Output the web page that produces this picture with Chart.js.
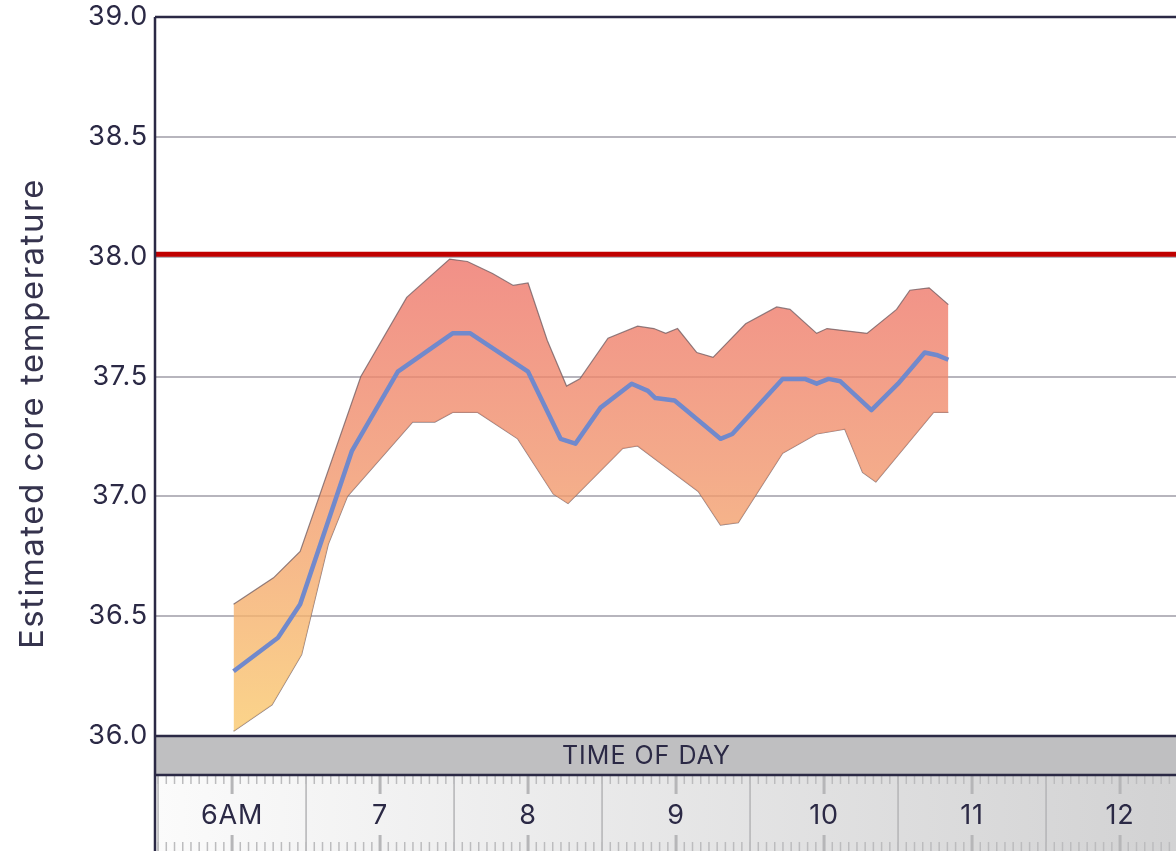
<!DOCTYPE html>
<html>
<head>
<meta charset="utf-8">
<script src="https://cdn.jsdelivr.net/npm/chart.js@4.4.1/dist/chart.umd.min.js"></script>
<style>
  html, body { margin: 0; padding: 0; background: #ffffff; overflow: hidden; }
  #wrap { width: 1176px; height: 851px; }
</style>
</head>
<body>
<div id="wrap"><canvas id="c" width="1176" height="851"></canvas></div>
<script>
// ---------------- DATA ----------------
const hourValues = [6, 7, 8, 9, 10, 11, 12];
const hourLabels = ['6AM', '7', '8', '9', '10', '11', '12'];
const yTickValues = [36.0, 36.5, 37.0, 37.5, 38.0, 38.5, 39.0];
const thresholdTemp = 38.01;

const meanTimes = [6.01, 6.31, 6.46, 6.81, 7.12, 7.49, 7.61, 8.00, 8.22, 8.32, 8.49, 8.70, 8.81, 8.86, 8.99, 9.30, 9.38, 9.72, 9.87, 9.95, 10.03, 10.11, 10.32, 10.50, 10.68, 10.76, 10.84];
const meanTemps = [36.27, 36.41, 36.55, 37.19, 37.52, 37.68, 37.68, 37.52, 37.24, 37.22, 37.37, 37.47, 37.44, 37.41, 37.40, 37.24, 37.26, 37.49, 37.49, 37.47, 37.49, 37.48, 37.36, 37.47, 37.60, 37.59, 37.57];

const upperTimes = [6.01, 6.28, 6.46, 6.87, 7.18, 7.47, 7.59, 7.76, 7.90, 8.00, 8.13, 8.26, 8.35, 8.54, 8.74, 8.85, 8.93, 9.01, 9.14, 9.25, 9.47, 9.68, 9.77, 9.95, 10.02, 10.29, 10.49, 10.58, 10.71, 10.84];
const upperTemps = [36.55, 36.66, 36.77, 37.50, 37.83, 37.99, 37.98, 37.93, 37.88, 37.89, 37.65, 37.46, 37.49, 37.66, 37.71, 37.70, 37.68, 37.70, 37.60, 37.58, 37.72, 37.79, 37.78, 37.68, 37.70, 37.68, 37.78, 37.86, 37.87, 37.80];

const lowerTimes = [6.01, 6.27, 6.47, 6.65, 6.78, 7.22, 7.37, 7.49, 7.66, 7.93, 8.17, 8.27, 8.64, 8.74, 9.15, 9.30, 9.42, 9.72, 9.95, 10.14, 10.26, 10.35, 10.74, 10.84];
const lowerTemps = [36.02, 36.13, 36.34, 36.80, 37.00, 37.31, 37.31, 37.35, 37.35, 37.24, 37.01, 36.97, 37.20, 37.21, 37.02, 36.88, 36.89, 37.18, 37.26, 37.28, 37.10, 37.06, 37.35, 37.35];

// ---------------- STYLE ----------------
const INK = '#2b2945';
const X_MIN = 5.486, X_MAX = 12.378;

const toPts = (xs, ys) => xs.map((t, i) => ({ x: t, y: ys[i] }));

function bandGradient(context) {
  const chart = context.chart;
  const { ctx, chartArea, scales } = chart;
  if (!chartArea) return 'rgba(244,170,138,0.85)';
  const y0 = scales.y.getPixelForValue(38.0);
  const y1 = scales.y.getPixelForValue(36.0);
  const g = ctx.createLinearGradient(0, y0, 0, y1);
  g.addColorStop(0, 'rgba(238,116,106,0.8)');
  g.addColorStop(0.45, 'rgba(241,150,109,0.8)');
  g.addColorStop(1, 'rgba(250,202,109,0.8)');
  return g;
}

const decor = {
  id: 'decor',
  beforeDraw(chart) {
    const { ctx, chartArea: a, scales: { x } } = chart;
    ctx.letterSpacing = '0.8px';
    const W = chart.width, H = chart.height;
    const bandTop = a.bottom, bandBot = a.bottom + 39;
    ctx.save();
    ctx.fillStyle = '#bfbfc1';
    ctx.fillRect(a.left, bandTop, W - a.left, bandBot - bandTop);
    const g = ctx.createLinearGradient(a.left, 0, W, 0);
    g.addColorStop(0, '#fbfbfb');
    g.addColorStop(1, '#d2d2d3');
    ctx.fillStyle = g;
    ctx.fillRect(a.left, bandBot, W - a.left, H - bandBot);
    // half-hour separators
    ctx.strokeStyle = '#b4b4b6';
    ctx.lineWidth = 1.5;
    for (let h = Math.floor(X_MIN); h <= Math.ceil(X_MAX); h++) {
      const px = x.getPixelForValue(h + 0.5);
      if (px < a.left || px > W) continue;
      ctx.beginPath(); ctx.moveTo(px, bandBot); ctx.lineTo(px, H); ctx.stroke();
    }
    // minor ticks
    ctx.strokeStyle = '#bcbcbe';
    ctx.lineWidth = 1.5;
    const n = 18;
    for (let h = Math.floor(X_MIN); h <= Math.ceil(X_MAX); h++) {
      for (let k = 1; k < n; k++) {
        const px = x.getPixelForValue(h + k / n);
        if (px < a.left + 2 || px > W) continue;
        ctx.beginPath(); ctx.moveTo(px, bandBot + 1); ctx.lineTo(px, bandBot + 9); ctx.stroke();
        ctx.beginPath(); ctx.moveTo(px, H - 9); ctx.lineTo(px, H); ctx.stroke();
      }
    }
    // major ticks
    ctx.strokeStyle = '#b6b6b8';
    ctx.lineWidth = 3;
    hourValues.forEach(v => {
      const px = x.getPixelForValue(v);
      ctx.beginPath(); ctx.moveTo(px, bandBot + 1); ctx.lineTo(px, bandBot + 19); ctx.stroke();
      ctx.beginPath(); ctx.moveTo(px, H - 16); ctx.lineTo(px, H); ctx.stroke();
    });
    ctx.restore();
  },
  afterDraw(chart) {
    const { ctx, chartArea: a, scales: { x } } = chart;
    const W = chart.width, H = chart.height;
    const bandTop = a.bottom, bandBot = a.bottom + 39;
    ctx.save();
    ctx.strokeStyle = INK;
    ctx.lineWidth = 2.5;
    // top frame
    ctx.beginPath(); ctx.moveTo(a.left - 1, a.top); ctx.lineTo(W, a.top); ctx.stroke();
    // band borders
    ctx.beginPath(); ctx.moveTo(a.left - 1, bandTop); ctx.lineTo(W, bandTop); ctx.stroke();
    ctx.beginPath(); ctx.moveTo(a.left - 1, bandBot); ctx.lineTo(W, bandBot); ctx.stroke();
    // left axis line
    ctx.beginPath(); ctx.moveTo(a.left - 1, a.top); ctx.lineTo(a.left - 1, H); ctx.stroke();
    // axis titles
    ctx.fillStyle = INK;
    ctx.letterSpacing = '1px';
    ctx.font = '400 25px Inter';
    ctx.textAlign = 'center';
    ctx.textBaseline = 'middle';
    ctx.fillText('TIME OF DAY', x.getPixelForValue(8.8), (bandTop + bandBot) / 2 + 1);
    ctx.translate(33, H / 2 - 12);
    ctx.rotate(-Math.PI / 2);
    ctx.letterSpacing = '1.5px';
    ctx.font = '400 33px Inter';
    ctx.fillStyle = '#35334d';
    ctx.fillText('Estimated core temperature', 0, 0);
    ctx.restore();
  }
};

new Chart(document.getElementById('c'), {
  type: 'line',
  data: {
    datasets: [
      {
        label: 'Threshold',
        data: [{ x: X_MIN, y: thresholdTemp }, { x: X_MAX, y: thresholdTemp }],
        borderColor: '#c00000',
        borderWidth: 5,
        pointRadius: 0,
        fill: false
      },
      {
        label: 'Mean',
        data: toPts(meanTimes, meanTemps),
        borderColor: '#7189cc',
        borderWidth: 4.5,
        pointRadius: 0,
        fill: false,
        tension: 0,
        borderJoinStyle: 'round',
        borderCapStyle: 'butt'
      },
      {
        label: 'Upper',
        data: toPts(upperTimes, upperTemps),
        borderColor: 'rgba(110,90,95,0.75)',
        borderWidth: 1.2,
        pointRadius: 0,
        tension: 0,
        fill: '+1',
        backgroundColor: bandGradient
      },
      {
        label: 'Lower',
        data: toPts(lowerTimes, lowerTemps),
        borderColor: 'rgba(110,90,95,0.75)',
        borderWidth: 1.2,
        pointRadius: 0,
        tension: 0,
        fill: false
      }
    ]
  },
  options: {
    responsive: false,
    animation: false,
    events: [],
    layout: { padding: { top: 17, left: 0, right: 0, bottom: 0 } },
    plugins: { legend: { display: false }, tooltip: { enabled: false } },
    scales: {
      x: {
        type: 'linear',
        min: X_MIN,
        max: X_MAX,
        position: 'bottom',
        grid: { display: false, drawTicks: false },
        border: { display: false },
        afterFit(scale) {
          scale.height = 115;
          scale.paddingLeft = 0; scale.paddingRight = 0;
          scale.paddingTop = 0; scale.paddingBottom = 0;
        },
        afterBuildTicks(scale) { scale.ticks = hourValues.map(v => ({ value: v })); },
        ticks: {
          autoSkip: false,
          maxRotation: 0,
          padding: 64,
          color: INK,
          font: { family: 'Inter', size: 27 },
          callback(value) {
            const i = hourValues.indexOf(value);
            return i >= 0 ? hourLabels[i] : '';
          }
        }
      },
      y: {
        type: 'linear',
        min: 36,
        max: 39,
        afterFit(scale) {
          scale.width = 156;
          scale.paddingLeft = 0; scale.paddingRight = 0;
          scale.paddingTop = 0; scale.paddingBottom = 0;
        },
        afterBuildTicks(scale) { scale.ticks = yTickValues.map(v => ({ value: v })); },
        grid: { color: '#b7b5bd', lineWidth: 2, drawTicks: false },
        border: { display: false },
        ticks: {
          padding: 8,
          color: INK,
          font: { family: 'Inter', size: 27 },
          callback(value) { return Number(value).toFixed(1); }
        }
      }
    }
  },
  plugins: [decor]
});
</script>
</body>
</html>
